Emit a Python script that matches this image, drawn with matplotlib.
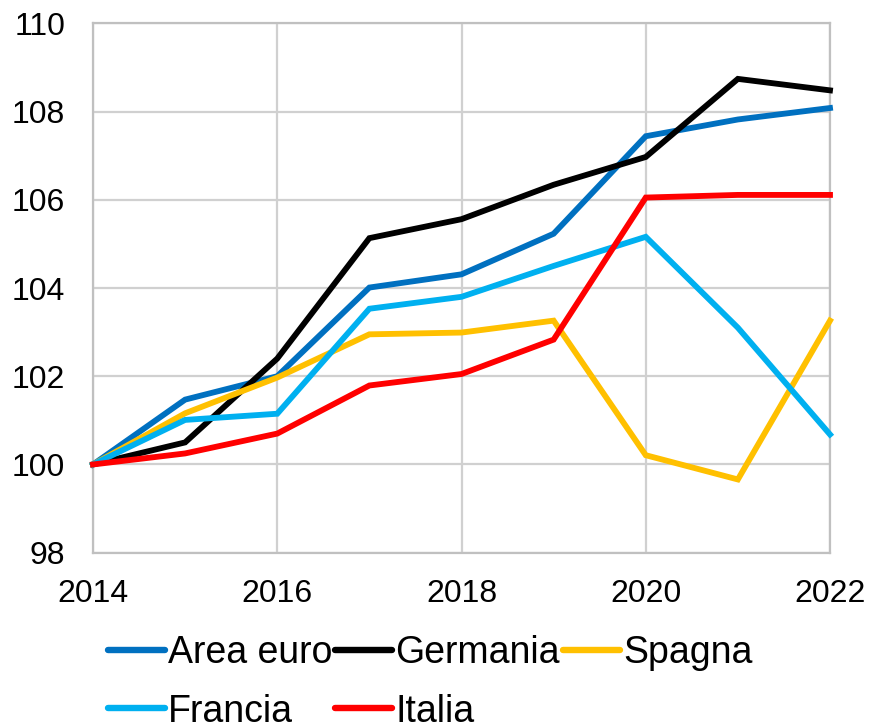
import matplotlib
matplotlib.use("Agg")
import matplotlib.pyplot as plt

years = [2014, 2015, 2016, 2017, 2018, 2019, 2020, 2021, 2022]
area_euro = [100, 101.47, 102.0, 104.01, 104.31, 105.23, 107.44, 107.82, 108.08]
germania = [100, 100.5, 102.4, 105.13, 105.56, 106.34, 106.97, 108.74, 108.48]
spagna = [100, 101.16, 101.97, 102.95, 102.99, 103.26, 100.21, 99.66, 103.26]
francia = [100, 101.01, 101.15, 103.53, 103.8, 104.5, 105.16, 103.1, 100.68]
italia = [100, 100.25, 100.70, 101.79, 102.05, 102.83, 106.05, 106.11, 106.11]

series = [
    ("Area euro", area_euro, "#0070C0"),
    ("Germania", germania, "#000000"),
    ("Spagna", spagna, "#FFC000"),
    ("Francia", francia, "#00B0F0"),
    ("Italia", italia, "#FF0000"),
]

plt.rcParams['font.family'] = ['Liberation Sans', 'DejaVu Sans']

W, H = 869, 726
fig = plt.figure(figsize=(W/100, H/100), dpi=100)
left, right, top, bottom = 93, 830, 23.3, 552.7
ax = fig.add_axes([left/W, 1-bottom/H, (right-left)/W, (bottom-top)/H])

handles = []
for name, vals, col in series:
    h, = ax.plot(years, vals, color=col, lw=4.2, label=name, solid_joinstyle='miter', zorder=3, clip_on=False)
    handles.append(h)

ax.set_xlim(2014, 2022)
ax.set_ylim(98, 110)
ax.set_xticks([2014, 2016, 2018, 2020, 2022])
ax.set_yticks(range(98, 111, 2))
ax.grid(True, color="#D0D0D0", lw=1.6, zorder=0)
for s in ax.spines.values():
    s.set_color("#C0C0C0")
    s.set_linewidth(1.6)
ax.tick_params(axis='both', length=0, labelsize=23, colors='black')
ax.tick_params(axis='y', pad=20)
ax.tick_params(axis='x', pad=19)

order = [0, 3, 1, 4, 2]
leg = fig.legend([handles[i] for i in order], [series[i][0] for i in order],
                 ncol=3, loc='upper left', bbox_to_anchor=(108/W, 1-635/H),
                 frameon=False, fontsize=27, handlelength=1.52, handletextpad=0.08,
                 columnspacing=0.08, labelspacing=0.6, borderaxespad=0, borderpad=0)
for l in leg.get_lines():
    l.set_linewidth(4.6)
    l.set_solid_capstyle('round')

fig.savefig("out.png", dpi=100)
